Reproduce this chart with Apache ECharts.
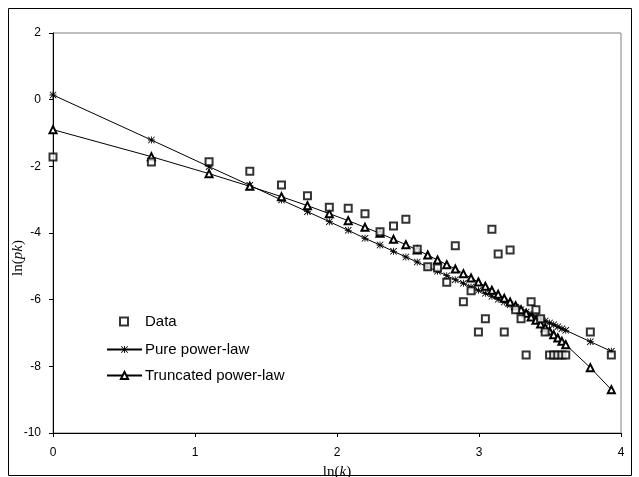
<!DOCTYPE html>
<html>
<head>
<meta charset="utf-8">
<script src="https://cdn.jsdelivr.net/npm/echarts@6/dist/echarts.min.js"></script>
<style>html,body{margin:0;padding:0;background:#fff}#c{width:639px;height:477px}</style>
</head>
<body>
<div id="c"></div>
<script>
// ln(k) positions
const lnK = [0, 0.693, 1.099, 1.386, 1.609, 1.792, 1.946, 2.079, 2.197, 2.303,
  2.398, 2.485, 2.565, 2.639, 2.708, 2.773, 2.833, 2.890, 2.944, 2.996,
  3.045, 3.091, 3.135, 3.178, 3.219, 3.258, 3.296, 3.332, 3.367, 3.401,
  3.434, 3.466, 3.497, 3.526, 3.555, 3.584, 3.611, 3.784, 3.932];
// observed ln(p_k)
const dataY = [-1.72, -1.87, -1.86, -2.15, -2.56, -2.88, -3.23, -3.26, -3.42, -3.96,
  -3.79, -3.59, -4.49, -5.01, -5.05, -5.48, -4.38, -6.06, -5.73, -6.97,
  -6.57, -3.89, -4.63, -6.97, -4.51, -6.30, -6.57, -7.66, -6.06, -6.30,
  -6.57, -6.97, -7.66, -7.66, -7.66, -7.66, -7.66, -6.97, -7.66];
// pure power-law fit
const pureY = [0.14, -1.21, -2.01, -2.57, -3.01, -3.36, -3.66, -3.92, -4.16, -4.36,
  -4.55, -4.72, -4.87, -5.02, -5.15, -5.28, -5.40, -5.51, -5.62, -5.72,
  -5.81, -5.90, -5.99, -6.07, -6.15, -6.23, -6.30, -6.37, -6.44, -6.51,
  -6.57, -6.64, -6.70, -6.75, -6.81, -6.87, -6.92, -7.26, -7.55];
// truncated power-law fit
const truncY = [-0.90, -1.71, -2.22, -2.60, -2.91, -3.18, -3.42, -3.63, -3.83, -4.01,
  -4.19, -4.35, -4.51, -4.66, -4.81, -4.95, -5.08, -5.22, -5.35, -5.47,
  -5.60, -5.72, -5.84, -5.96, -6.07, -6.18, -6.30, -6.41, -6.52, -6.62,
  -6.73, -6.84, -6.94, -7.05, -7.15, -7.25, -7.35, -8.04, -8.70];
const seriesNames = ['Data', 'Pure power-law', 'Truncated power-law'];

const pair = ys => lnK.map((x, i) => [x, ys[i]]);
const asterisk = 'path://M4.4,0h1.2v10h-1.2z M0,4.4h10v1.2h-10z M0,0.85L0.85,0L10,9.15L9.15,10Z M9.15,0L10,0.85L0.85,10L0,9.15Z';
const SANS = '"Liberation Sans", Arial, sans-serif';
const SERIF = '"Liberation Serif", "Times New Roman", serif';
const legendText = {fontFamily: SANS, fontSize: 15, color: '#000'};
const titleRich = {
  a: {fontFamily: SERIF, fontSize: 15, fill: '#000', color: '#000'},
  b: {fontFamily: SERIF, fontSize: 15, fontStyle: 'italic', fill: '#000', color: '#000'}
};

const chart = echarts.init(document.getElementById('c'), null, {renderer: 'canvas'});
chart.setOption({
  animation: false,
  backgroundColor: '#fff',
  graphic: [{
    type: 'rect', shape: {x: 8.5, y: 8.5, width: 623, height: 467},
    style: {fill: 'none', stroke: '#000', lineWidth: 1}, z: -1
  }, {
    type: 'text', x: 18, y: 258, rotation: Math.PI / 2,
    style: {text: '{a|ln(}{b|pk}{a|)}', rich: titleRich, align: 'center', verticalAlign: 'middle'}
  }],
  grid: {left: 53, top: 33, right: 18, bottom: 44, outerBoundsMode: 'none', containLabel: false,
    show: true, borderColor: '#808080', borderWidth: 1, backgroundColor: 'transparent'},
  legend: [{
    orient: 'vertical', left: 119, top: 314, padding: 0, itemWidth: 8, itemHeight: 8,
    data: [seriesNames[0]],
    textStyle: Object.assign({padding: [0, 0, 0, 12]}, legendText)
  }, {
    orient: 'vertical', left: 106, top: 342, padding: 0, itemWidth: 35, itemHeight: 9, itemGap: 11,
    data: [seriesNames[1], seriesNames[2]],
    textStyle: Object.assign({padding: [0, 0, 0, -2]}, legendText)
  }],
  xAxis: {
    type: 'value', min: 0, max: 4, interval: 1,
    name: '{a|ln(}{b|k}{a|)}', nameLocation: 'middle', nameGap: 32,
    nameTextStyle: {rich: titleRich},
    axisLine: {onZero: false, lineStyle: {color: '#000', width: 1}},
    axisTick: {length: 4, lineStyle: {color: '#000'}},
    axisLabel: {fontFamily: SANS, fontSize: 12, color: '#000', margin: 14},
    splitLine: {show: false}
  },
  yAxis: {
    type: 'value', min: -10, max: 2, interval: 2,
    axisLine: {show: true, onZero: false, lineStyle: {color: '#000', width: 1}},
    axisTick: {show: true, length: 4, lineStyle: {color: '#000'}},
    axisLabel: {fontFamily: SANS, fontSize: 12, color: '#000', margin: 12},
    splitLine: {show: false}
  },
  series: [
    {
      name: seriesNames[1], type: 'line', data: pair(pureY),
      symbol: asterisk, symbolSize: 7,
      lineStyle: {color: '#000', width: 1},
      itemStyle: {color: '#000', borderWidth: 0}, z: 2
    },
    {
      name: seriesNames[2], type: 'line', data: pair(truncY),
      symbol: 'emptyTriangle', symbolSize: 7,
      lineStyle: {color: '#000', width: 1},
      itemStyle: {color: '#000', borderColor: '#000', borderWidth: 1}, z: 3
    },
    {
      name: seriesNames[0], type: 'scatter', data: pair(dataY),
      symbol: 'emptyRect', symbolSize: 7, symbolKeepAspect: true,
      itemStyle: {color: '#000', borderColor: '#000', borderWidth: 1}, z: 4
    }
  ]
});
</script>
</body>
</html>
